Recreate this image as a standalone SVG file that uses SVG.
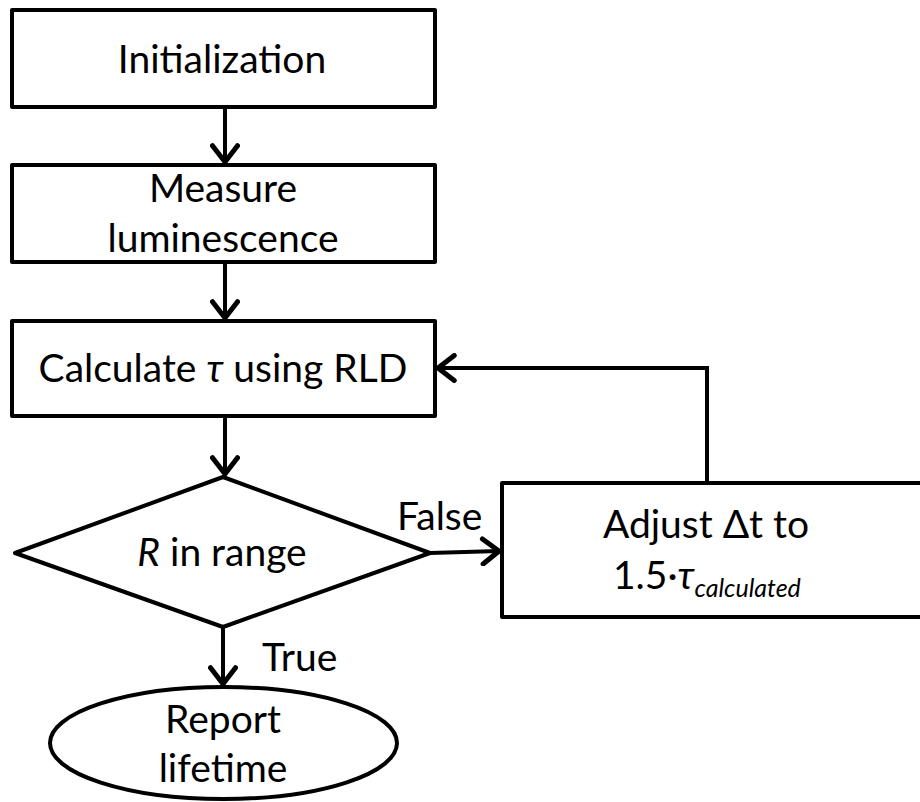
<svg xmlns="http://www.w3.org/2000/svg" width="920" height="802" viewBox="0 0 920 802">
<defs>
<marker id="arr" markerUnits="userSpaceOnUse" markerWidth="30" markerHeight="30" viewBox="-16 -12 20 24" refX="0" refY="0" orient="auto">
<path d="M-13,-10 L0,0 L-13,10" fill="none" stroke="#000" stroke-width="4" stroke-linecap="round" stroke-linejoin="miter"/>
</marker>
<style>
.s{fill:#fff;stroke:#000;stroke-width:4;stroke-linejoin:round}
.c{fill:none;stroke:#000;stroke-width:4}
text{font-family:Lato,"Open Sans","Liberation Sans",sans-serif;font-size:39px;fill:#000}
.m{text-anchor:middle}
</style>
</defs>
<rect width="920" height="802" fill="#fff"/>
<g id="connectors">
<line class="c" x1="225" y1="107" x2="225" y2="162" marker-end="url(#arr)"/>
<line class="c" x1="225" y1="262" x2="225" y2="318" marker-end="url(#arr)"/>
<line class="c" x1="225" y1="416" x2="225" y2="474" marker-end="url(#arr)"/>
<line class="c" x1="430" y1="553" x2="499" y2="551" marker-end="url(#arr)"/>
<polyline class="c" points="707,483 707,368 438,368" marker-end="url(#arr)"/>
<line class="c" x1="223" y1="627" x2="223" y2="684" marker-end="url(#arr)"/>
<text x="397" y="530">False</text>
<text x="262" y="671">True</text>
</g>
<g id="init">
<rect class="s" x="12" y="10" width="423" height="97"/>
<text class="m" x="222" y="73" font-size="40">Initialization</text>
</g>
<g id="measure">
<rect class="s" x="12" y="165" width="423" height="97"/>
<text class="m" x="223" y="202">Measure</text>
<text class="m" x="223" y="252">luminescence</text>
</g>
<g id="calc">
<rect class="s" x="12" y="321" width="423" height="95"/>
<text class="m" x="223" y="382" font-size="38">Calculate <tspan font-style="italic">τ</tspan> using RLD</text>
</g>
<g id="decision">
<polygon class="s" points="223,477 430,553 223,627 15,553"/>
<text class="m" x="222" y="566"><tspan font-style="italic">R</tspan> in range</text>
</g>
<g id="adjust">
<rect class="s" x="502" y="483" width="430" height="134"/>
<text class="m" x="706" y="538" font-size="37">Adjust Δt to</text>
<text x="613" y="589" font-size="38">1.5·<tspan font-style="italic">τ</tspan><tspan font-style="italic" font-size="25" dy="8">calculated</tspan></text>
</g>
<g id="report">
<ellipse class="s" cx="223.5" cy="743" rx="173.5" ry="56"/>
<text class="m" x="223" y="733">Report</text>
<text class="m" x="223" y="782">lifetime</text>
</g>
</svg>
